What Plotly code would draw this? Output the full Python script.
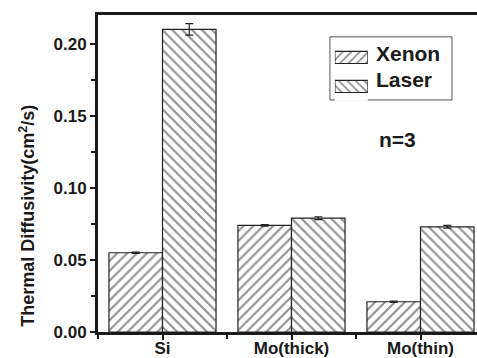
import plotly.graph_objects as go

categories = ["Si", "Mo(thick)", "Mo(thin)"]
xenon = [0.055, 0.074, 0.021]
laser = [0.210, 0.079, 0.073]
xenon_err = [0.0005, 0.0005, 0.0005]
laser_err = [0.004, 0.001, 0.001]
y_ticks = [0.00, 0.05, 0.10, 0.15, 0.20]
series_names = ["Xenon", "Laser"]
series_patterns = ["/", "\\"]

xpos = [1, 2, 3]
dark = "#222222"
font_family = "Liberation Sans, Arial, sans-serif"

fig = go.Figure()
for name, vals, errs, pat in zip(series_names, [xenon, laser], [xenon_err, laser_err], series_patterns):
    fig.add_trace(go.Bar(
        x=xpos, y=vals, name=name, showlegend=False,
        marker=dict(color="white", line=dict(color=dark, width=1.2),
                    pattern=dict(shape=pat, fgcolor=dark, bgcolor="white", size=7, solidity=0.3)),
        error_y=dict(type="data", array=errs, color=dark, thickness=1.2, width=4),
    ))

# legend swatches (patterned keys) drawn on a small inset axis
fig.add_trace(go.Bar(
    x=[1, 1], y=[0, 1], orientation="h", width=0.42, showlegend=False, hoverinfo="skip",
    xaxis="x2", yaxis="y2",
    marker=dict(color="white", line=dict(color=dark, width=1.2),
                pattern=dict(shape=series_patterns, fgcolor=dark, bgcolor="white", size=6, solidity=0.3)),
))

fig.update_layout(
    width=477, height=358,
    margin=dict(l=98, r=0, t=15, b=26),
    paper_bgcolor="white", plot_bgcolor="white",
    barmode="group", bargap=0.17, bargroupgap=0,
    font=dict(family=font_family, color="#1a1a1a", size=16),
    showlegend=False,
    xaxis=dict(range=[0.5, 3.438], tickmode="array", tickvals=xpos,
               ticktext=["<b>%s</b>" % c for c in categories],
               showline=True, linecolor="#1a1a1a", linewidth=3, mirror=True,
               ticks="outside", ticklen=5, tickwidth=2, tickcolor="#1a1a1a",
               minor=dict(tick0=0.5, dtick=1, ticks="outside", ticklen=4, tickwidth=2, tickcolor="#1a1a1a"),
               showgrid=False, zeroline=False, automargin=False,
               ticklabelstandoff=-6,
               tickfont=dict(size=17)),
    yaxis=dict(range=[0, 0.22], tickmode="array", tickvals=y_ticks,
               ticktext=["<b>%.2f</b>" % v for v in y_ticks],
               showline=True, linecolor="#1a1a1a", linewidth=3,
               ticks="outside", ticklen=5, tickwidth=2, tickcolor="#1a1a1a",
               minor=dict(tick0=0.025, dtick=0.05, ticks="outside", ticklen=4, tickwidth=2, tickcolor="#1a1a1a"),
               showgrid=False, zeroline=False, automargin=False,
               tickfont=dict(size=17)),
    xaxis2=dict(domain=[0.625, 0.712], range=[0, 1], anchor="y2", visible=False, fixedrange=True),
    yaxis2=dict(domain=[0.729, 0.912], range=[1.5, -0.5], anchor="x2", visible=False, fixedrange=True),
    shapes=[dict(type="rect", xref="paper", yref="paper", x0=0.612, x1=0.934, y0=0.732, y1=0.931,
                 line=dict(color="#555555", width=1), fillcolor="rgba(0,0,0,0)", layer="below")],
    annotations=[
        dict(text="<b>Thermal Diffusivity(cm<sup>2</sup>/s)</b>", xref="paper", yref="paper",
             x=-0.185, y=0.366, textangle=-90, showarrow=False,
             font=dict(size=18), xanchor="center", yanchor="middle"),
        dict(text="<b>n=3</b>", xref="paper", yref="paper", x=0.79, y=0.606,
             showarrow=False, font=dict(size=21), xanchor="center", yanchor="middle"),
        dict(text="<b>%s</b>" % series_names[0], xref="paper", yref="paper", x=0.728, y=0.880,
             showarrow=False, font=dict(size=21), xanchor="left", yanchor="middle"),
        dict(text="<b>%s</b>" % series_names[1], xref="paper", yref="paper", x=0.728, y=0.795,
             showarrow=False, font=dict(size=21), xanchor="left", yanchor="middle"),
    ],
)

page_css = ("document.documentElement.style.overflow='hidden';"
            "document.body.style.overflow='hidden';"
            "document.body.style.margin='0';")
fig.write_html("out.html", post_script=page_css, config={"displayModeBar": False})
